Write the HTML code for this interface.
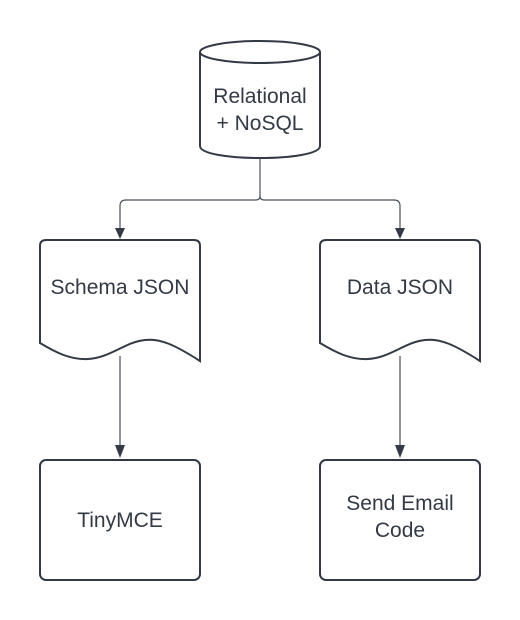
<!DOCTYPE html>
<html><head><meta charset="utf-8"><style>
html,body{margin:0;padding:0;background:#fff;}
svg{display:block}
text{font-family:"Liberation Sans",Arial,sans-serif;font-size:21px;fill:#333a45;text-anchor:middle}
</style></head><body>
<svg width="520" height="620" viewBox="0 0 520 620">
<g fill="none" stroke="#333a45" stroke-width="2">
<path d="M200,52 L200,146 C200,162 320,162 320,146 L320,52"/>
<ellipse cx="260" cy="52" rx="60" ry="11"/>
<path d="M46,240 L194,240 Q200,240 200,246 L200,361 C175,345 160,338 145,340 C125,342 110,358 88,359 C70,360 55,352 40,343 L40,246 Q40,240 46,240 Z"/>
<path d="M326,240 L474,240 Q480,240 480,246 L480,361 C455,345 440,338 425,340 C405,342 390,358 368,359 C350,360 335,352 320,343 L320,246 Q320,240 326,240 Z"/>
<rect x="40" y="460" width="160" height="120" rx="6"/>
<rect x="320" y="460" width="160" height="120" rx="6"/>
</g>
<g fill="none" stroke="#4a505a" stroke-width="1.2">
<path d="M260,158 L260,196 Q260,200 256,200 L126,200 Q120,200 120,206 L120,230"/>
<path d="M260,196 Q260,200 264,200 L394,200 Q400,200 400,206 L400,230"/>
<path d="M120,356 L120,447"/>
<path d="M400,356 L400,447"/>
</g>
<g fill="#333a45">
<path d="M115,228 L125,228 L120,239 Z"/>
<path d="M395,228 L405,228 L400,239 Z"/>
<path d="M115,445 L125,445 L120,458 Z"/>
<path d="M395,445 L405,445 L400,458 Z"/>
</g>
<text x="260" y="103">Relational</text>
<text x="260" y="130">+ NoSQL</text>
<text x="120" y="294">Schema JSON</text>
<text x="400" y="294">Data JSON</text>
<text x="120" y="527">TinyMCE</text>
<text x="400" y="510">Send Email</text>
<text x="400" y="537">Code</text>
</svg>
</body></html>
